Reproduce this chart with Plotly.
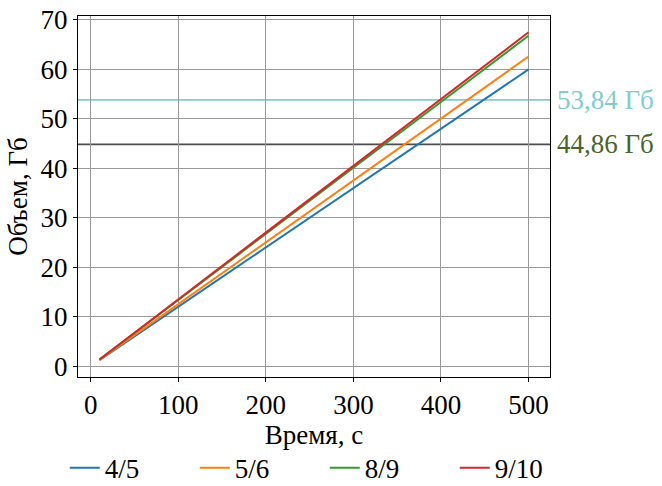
import plotly.graph_objects as go

time_s = [10, 100, 200, 300, 400, 500]
series_names = ["4/5", "5/6", "8/9", "9/10"]
vol_45 = [1.2, 12.0, 24.0, 36.0, 48.0, 60.0]
vol_56 = [1.25, 12.5, 25.0, 37.6, 50.1, 62.6]
vol_89 = [1.34, 13.4, 26.7, 40.1, 53.4, 66.8]
vol_910 = [1.35, 13.5, 27.0, 40.5, 54.0, 67.5]
series_values = [vol_45, vol_56, vol_89, vol_910]
series_colors = ["#1f77b4", "#ff7f0e", "#2ca02c", "#d62728"]

threshold_values = [53.84, 44.86]
threshold_labels = ["53,84 Гб", "44,86 Гб"]
threshold_line_colors = ["#7fcdcd", "#4d4d4d"]
threshold_text_colors = ["#7fcdcd", "#4a6528"]

FONT = "Liberation Serif"
FS = 27

fig = go.Figure()
for name, vals, col in zip(series_names, series_values, series_colors):
    fig.add_trace(go.Scatter(x=time_s, y=vals, mode="lines", name=name,
                             line=dict(color=col, width=2)))

for val, lab, lc, tc in zip(threshold_values, threshold_labels,
                            threshold_line_colors, threshold_text_colors):
    fig.add_shape(type="line", xref="paper", x0=0, x1=1, yref="y", y0=val, y1=val,
                  line=dict(color=lc, width=1.8), layer="between")
    fig.add_annotation(xref="paper", x=1, yref="y", y=val, text=lab, showarrow=False,
                       xanchor="left", yanchor="middle", xshift=5,
                       font=dict(family=FONT, size=FS, color=tc))

axis_common = dict(showline=True, linecolor="black", linewidth=1, mirror=True,
                   showgrid=True, gridcolor="#9a9a9a", gridwidth=1,
                   ticks="outside", ticklen=4, tickcolor="black", tickwidth=1,
                   zeroline=False, tickfont=dict(family=FONT, size=FS, color="black"))

fig.update_xaxes(range=[-14.5, 524.5], tickvals=[0, 100, 200, 300, 400, 500],
                 title=dict(text="Время, с", font=dict(family=FONT, size=FS, color="black"),
                            standoff=0),
                 **axis_common)
fig.update_yaxes(range=[-2.2, 70.8], tickvals=[0, 10, 20, 30, 40, 50, 60, 70],
                 title=dict(text="Объем, Гб", font=dict(family=FONT, size=FS, color="black"),
                            standoff=5),
                 **axis_common)

fig.update_layout(
    width=662, height=486,
    margin=dict(l=78, r=112, t=16, b=109, autoexpand=False),
    plot_bgcolor="white", paper_bgcolor="white",
    font=dict(family=FONT, size=FS, color="black"),
    legend=dict(orientation="h", x=-0.028, xanchor="left", y=-0.185, yanchor="top",
                entrywidth=85, entrywidthmode="pixels", tracegroupgap=0,
                font=dict(family=FONT, size=FS, color="black")),
)

fig.write_html("out.html", config={"displayModeBar": False},
               post_script="document.body.style.margin='0';document.body.style.padding='0';")
